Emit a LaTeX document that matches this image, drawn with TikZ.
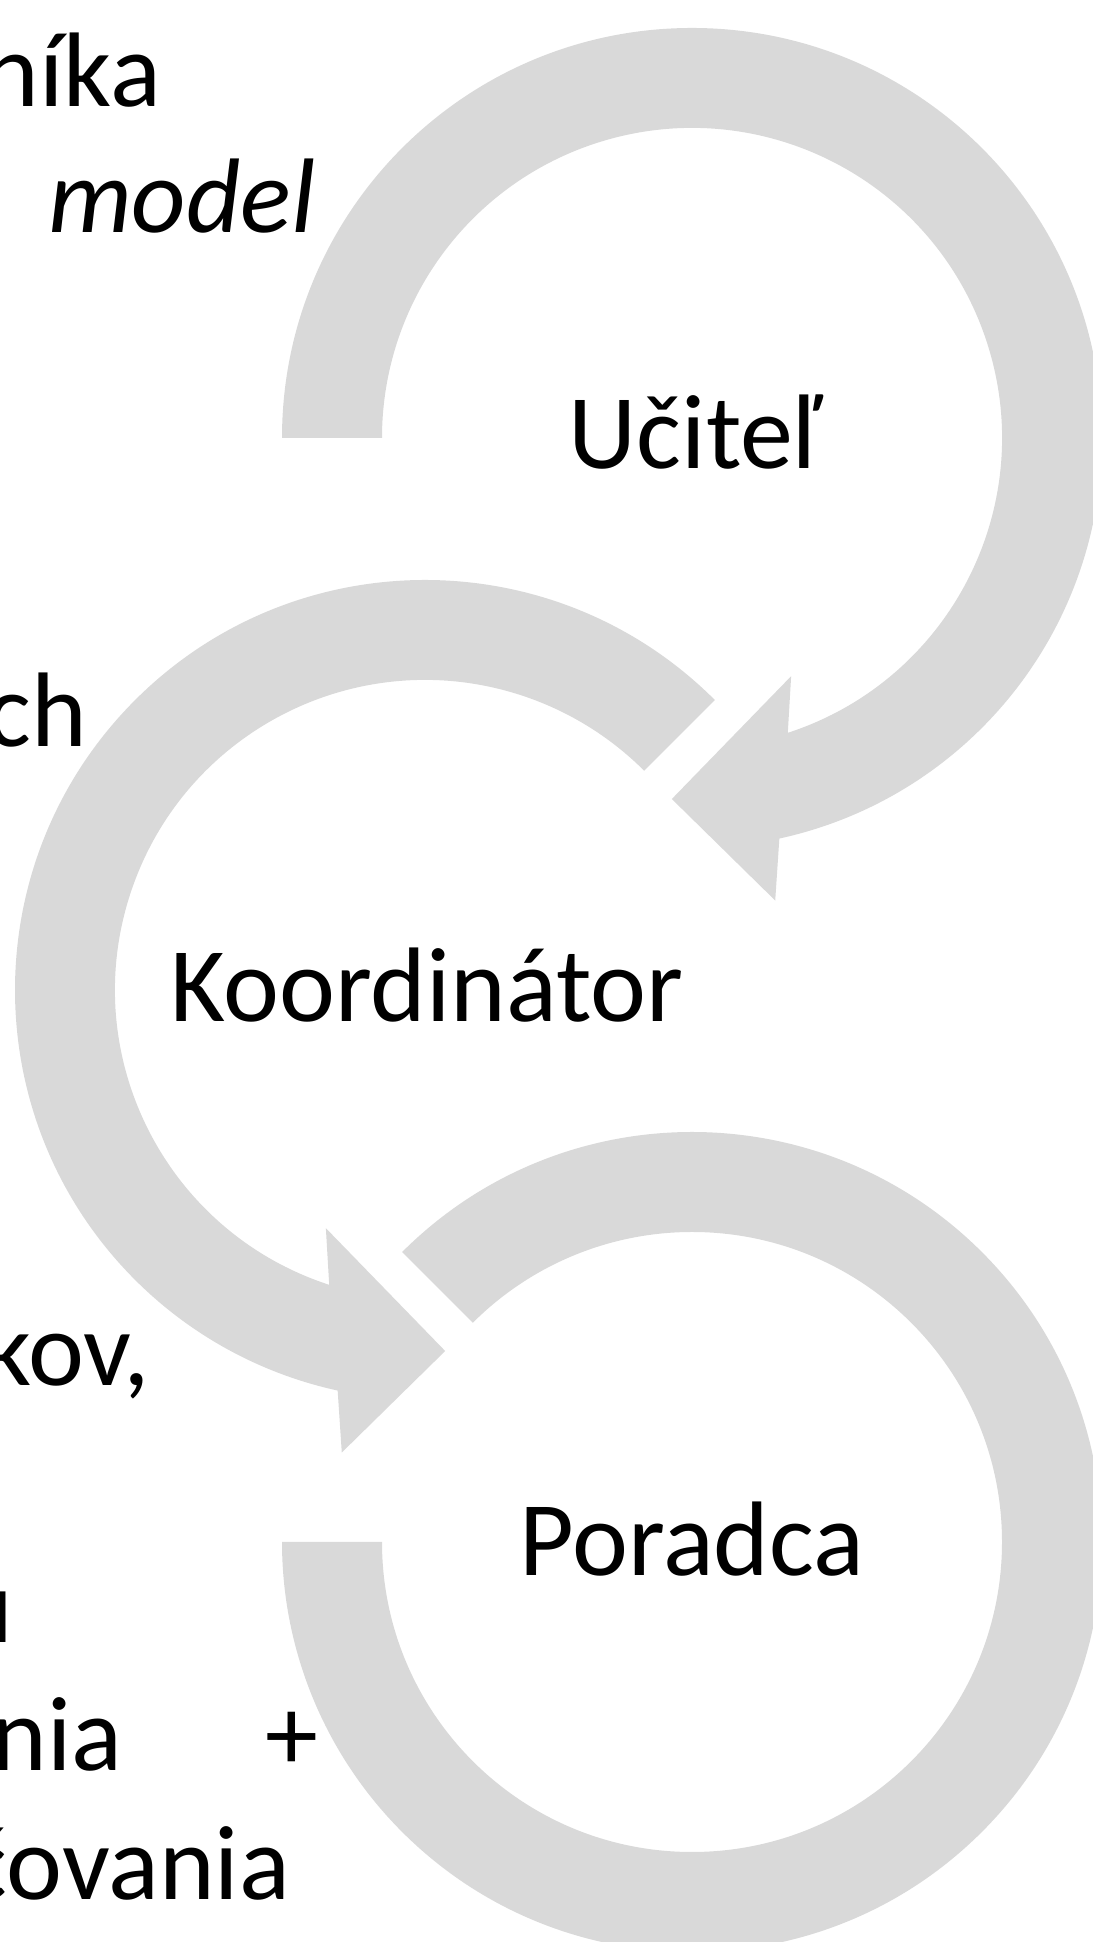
\documentclass[tikz,border=0pt]{standalone}
\usepackage{fontspec}
\setmainfont{Carlito}
\definecolor{arrowgray}{HTML}{D9D9D9}
\begin{document}
\begin{tikzpicture}[x=1pt,y=1pt,
  band/.style={fill=arrowgray,draw=none},
  lbl/.style={inner sep=0pt,outer sep=0pt,text=black,font=\fontsize{106}{127}\selectfont},
  lbli/.style={lbl,font=\fontsize{106}{127}\selectfont\itshape}]
\useasboundingbox (0,0) rectangle (1092,1942);
% circle 1 (clockwise, arrow ends lower left)
\begin{scope}[shift={(692,1504)}]
\fill[band] (180:410) arc[start angle=180,end angle=-77.7,radius=410]
  -- (-79.8:470) -- (-93.2:361.6) -- (-67.4:258) -- (-72:310)
  arc[start angle=-72,end angle=180,radius=310] -- cycle;
\end{scope}
% circle 2 (counterclockwise, arrow ends lower right)
\begin{scope}[shift={(425,952)}]
\fill[band] (45:410) arc[start angle=45,end angle=257.7,radius=410]
  -- (259.8:470) -- (273.2:361.6) -- (247.4:258) -- (252:310)
  arc[start angle=252,end angle=45,radius=310] -- cycle;
\end{scope}
% circle 3 (clockwise, flat end at left)
\begin{scope}[shift={(692,400)}]
\fill[band] (135:410) arc[start angle=135,end angle=-180,radius=410]
  -- (180:310) arc[start angle=-180,end angle=135,radius=310] -- cycle;
\end{scope}
% labels
\node[lbl,anchor=base] (ucitel) at (695,1473) {Učiteľ};
\node[lbl,anchor=base] (koord) at (427,920) {Koordinátor};
\node[lbl,anchor=base] (poradca) at (692,366) {Poradca};
% left texts (cut off at the left edge)
\node[lbl,anchor=base east] (t1) at (161,1835) {níka};
\node[lbli,anchor=base west] (t2) at (48,1709) {model};
\node[lbl,anchor=base east] (t3) at (87,1195) {ch};
\node[lbl,anchor=base east] (t4) at (150,556) {kov,};
\node[lbl,anchor=base east] (t5) at (13,299) {u};
\node[lbl,anchor=base east] (t6) at (318,171) {nia\hspace{143pt}+};
\node[lbl,anchor=base east] (t7) at (290,42) {čovania};
\end{tikzpicture}
\end{document}
